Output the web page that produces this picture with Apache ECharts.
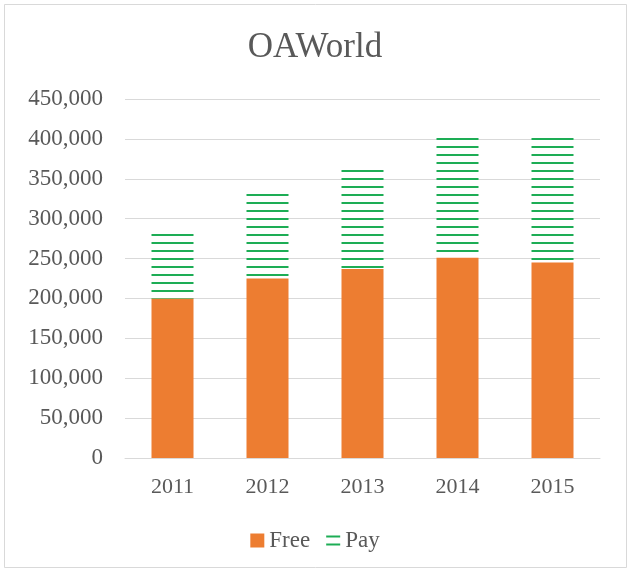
<!DOCTYPE html>
<html>
<head>
<meta charset="utf-8">
<script src="https://cdn.jsdelivr.net/npm/echarts@6/dist/echarts.min.js"></script>
<style>
  html, body { margin: 0; padding: 0; background: #fff; }
  #chart { width: 630px; height: 572px; }
</style>
</head>
<body>
<div id="chart"></div>
<script>
const years = ['2011', '2012', '2013', '2014', '2015'];
const free = [200000, 225000, 237000, 251000, 245000];
const pay = [81000, 107000, 125000, 151000, 157000];
const yTicks = { min: 0, max: 450000, step: 50000 };

const font = '"Liberation Serif", serif';
const textColor = '#595959';

// horizontal green stripes, like the excel "pay" fill
function stripes() {
  const c = document.createElement('canvas');
  c.width = 8;
  c.height = 8;
  const ctx = c.getContext('2d');
  ctx.fillStyle = '#1DAD55';
  ctx.fillRect(0, 2, 8, 2);
  return c;
}

const chart = echarts.init(document.getElementById('chart'));
chart.setOption({
  animation: false,
  backgroundColor: '#fff',
  title: {
    text: 'OAWorld',
    left: 'center',
    top: 25,
    textStyle: { fontFamily: font, fontSize: 35, fontWeight: 'normal', color: textColor }
  },
  legend: {
    top: 524,
    left: 'center',
    icon: 'rect',
    itemWidth: 14,
    itemHeight: 14,
    itemGap: 16,
    textStyle: { fontFamily: font, fontSize: 23, color: textColor },
    data: ['Free', 'Pay']
  },
  grid: { left: 125, right: 30, top: 99, bottom: 114 },
  xAxis: {
    type: 'category',
    data: years,
    axisTick: { show: false },
    axisLine: { lineStyle: { color: '#D9D9D9' } },
    axisLabel: { fontFamily: font, fontSize: 22, color: textColor, margin: 18 }
  },
  yAxis: {
    type: 'value',
    min: yTicks.min,
    max: yTicks.max,
    interval: yTicks.step,
    axisLine: { show: false },
    axisTick: { show: false },
    splitLine: { lineStyle: { color: '#D9D9D9', width: 1 } },
    axisLabel: {
      fontFamily: font,
      fontSize: 23,
      color: textColor,
      margin: 22,
      formatter: (v) => v.toLocaleString('en-US')
    }
  },
  graphic: [{
    type: 'rect',
    shape: { x: 4.5, y: 4.5, width: 622, height: 563 },
    style: { fill: 'none', stroke: '#D9D9D9', lineWidth: 1 },
    silent: true
  }],
  series: [
    {
      name: 'Free',
      type: 'bar',
      stack: 'total',
      barWidth: 42,
      data: free,
      itemStyle: { color: '#ED7D31' }
    },
    {
      name: 'Pay',
      type: 'bar',
      stack: 'total',
      barWidth: 42,
      data: pay,
      itemStyle: { color: { image: stripes(), repeat: 'repeat' } }
    }
  ]
});
</script>
</body>
</html>
